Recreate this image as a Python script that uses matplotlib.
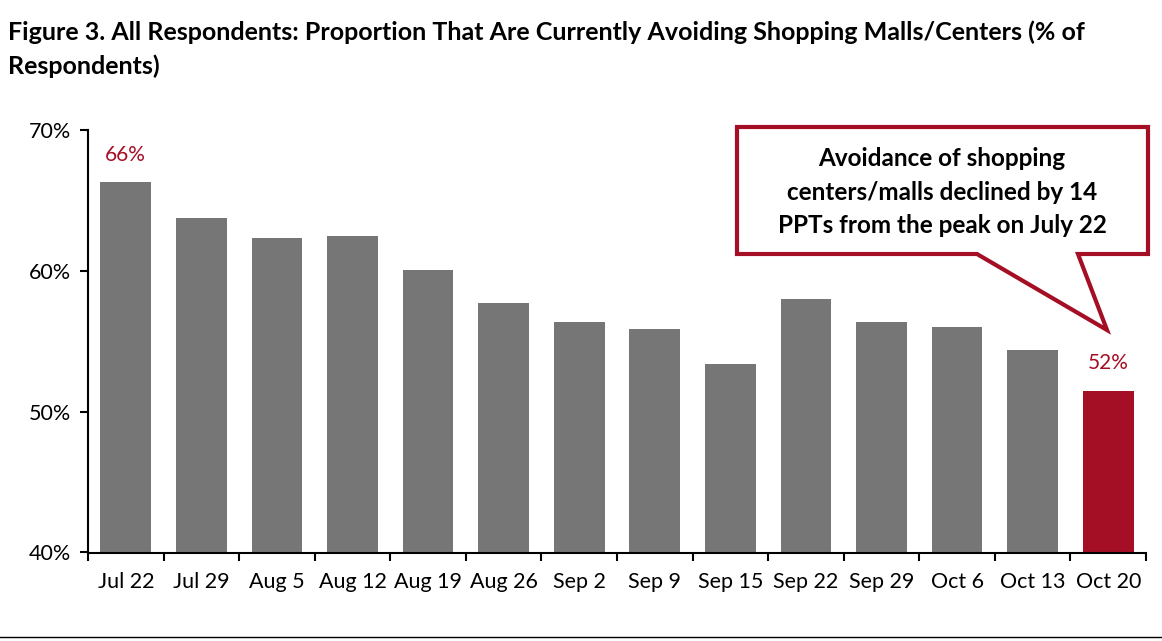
import matplotlib
matplotlib.use("Agg")
import matplotlib.pyplot as plt
from matplotlib.patches import Polygon
from matplotlib.lines import Line2D

categories = ["Jul 22", "Jul 29", "Aug 5", "Aug 12", "Aug 19", "Aug 26", "Sep 2",
              "Sep 9", "Sep 15", "Sep 22", "Sep 29", "Oct 6", "Oct 13", "Oct 20"]
values = [66.3, 63.75, 62.3, 62.5, 60.05, 57.7, 56.4, 55.85, 53.4, 58.0, 56.35, 56.0, 54.35, 51.5]
yticks = [40, 50, 60, 70]
ytick_labels = ["40%", "50%", "60%", "70%"]
labeled = {0: "66%", 13: "52%"}

GRAY = "#767676"
RED = "#A50F25"
FONT = "Lato"

W, H = 1162, 641
fig = plt.figure(figsize=(W / 100, H / 100), dpi=100)
ax = fig.add_axes([88 / W, 1 - 552.5 / H, (1146 - 88) / W, (552.5 - 130) / H])

x = list(range(len(categories)))
colors = [RED if i == len(categories) - 1 else GRAY for i in x]
ax.bar(x, values, width=0.67, color=colors, zorder=2)

ax.set_ylim(40, 70)
ax.set_xlim(-0.5, len(categories) - 0.5)
ax.set_yticks(yticks)
ax.set_yticklabels(ytick_labels, fontsize=15.5, family=FONT)
ax.set_xticks(x)
ax.set_xticklabels(categories, fontsize=15.5, family=FONT)
ax.set_xticks([i - 0.5 for i in range(len(categories) + 1)], minor=True)
ax.tick_params(axis="x", which="major", length=0, pad=14)
ax.tick_params(axis="x", which="minor", length=6, width=1.5, direction="out")
ax.tick_params(axis="y", length=6, width=1.5, direction="out", pad=6)
for s in ["top", "right"]:
    ax.spines[s].set_visible(False)
for s in ["left", "bottom"]:
    ax.spines[s].set_linewidth(1.5)

for i, lab in labeled.items():
    ax.text(i, values[i] + 1.25, lab, ha="center", va="bottom", color=RED,
            fontsize=15, family=FONT)

fig.text(8 / W, 1 - 32 / H, "Figure 3. All Respondents: Proportion That Are Currently Avoiding Shopping Malls/Centers (% of",
         ha="left", va="center", fontsize=18, fontweight="bold", family=FONT)
fig.text(8 / W, 1 - 66 / H, "Respondents)",
         ha="left", va="center", fontsize=18, fontweight="bold", family=FONT)

pts_px = [(737, 127), (1148, 127), (1148, 254), (1078, 254), (1107, 330), (977, 254), (737, 254)]
pts = [(px / W, 1 - py / H) for px, py in pts_px]
fig.add_artist(Polygon(pts, closed=True, transform=fig.transFigure, facecolor="white",
                       edgecolor=RED, linewidth=3, joinstyle="miter", zorder=5))
fig.text(942 / W, 1 - 192 / H,
         "Avoidance of shopping\ncenters/malls declined by 14\nPPTs from the peak on July 22",
         ha="center", va="center", fontsize=17.5, fontweight="bold", family=FONT,
         linespacing=1.55, zorder=6)

fig.add_artist(Line2D([0, 1], [1 - 637 / H, 1 - 637 / H], transform=fig.transFigure,
                      color="black", linewidth=1))

fig.savefig("out.png", dpi=100)
